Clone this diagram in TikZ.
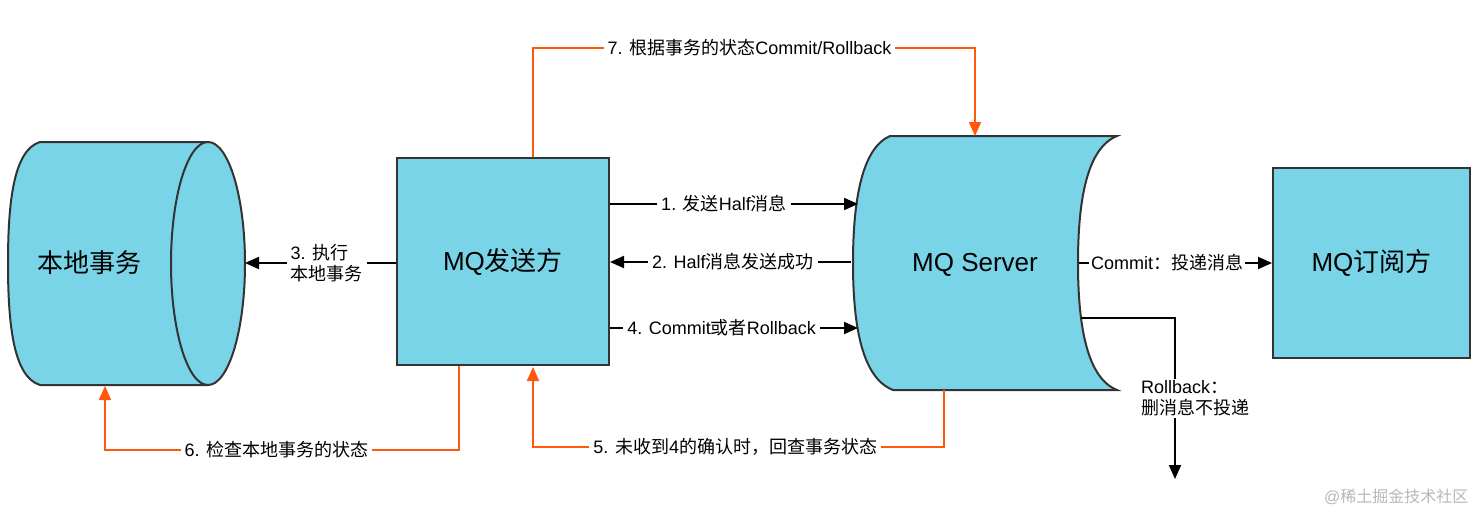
\documentclass[tikz,border=0pt]{standalone}
\usepackage{fontspec}
\setmainfont{Liberation Sans}
\newfontfamily\cjk{Noto Sans CJK SC}
\newcommand\C[1]{{\cjk #1}}
\usetikzlibrary{arrows.meta}
\definecolor{fillc}{RGB}{122,212,232}
\definecolor{edgec}{RGB}{51,51,51}
\definecolor{orng}{RGB}{255,88,10}
\tikzset{
 shapeln/.style={draw=edgec, line width=2pt, fill=fillc},
 boxnode/.style={shapeln, inner sep=0pt, font=\fontsize{26}{30}\selectfont},
 conn/.style={line width=2pt, -{Triangle[length=14pt,width=12pt]}},
 oconn/.style={conn, draw=orng, color=orng},
 lbl/.style={fill=white, text=black, font=\fontsize{18}{21}\selectfont, inner xsep=4pt, inner ysep=2pt, align=left},
 big/.style={font=\fontsize{26}{30}\selectfont},
}
\begin{document}
\begin{tikzpicture}[x=1pt,y=-1pt]
\useasboundingbox[fill=white] (0,0) rectangle (1478,514);
% local transaction cylinder
\filldraw[shapeln] (208,142) -- (40,142) .. controls (14,150) and (8,200) .. (8,263.5)
  .. controls (8,327) and (14,377) .. (40,385) -- (208,385);
\filldraw[shapeln] (208,263.5) ellipse [x radius=37pt, y radius=121.5pt];
\node[big] (local) at (89,263) {\C{本地事务}};
\coordinate (localR) at (245,263);
\coordinate (localB) at (105,386);
% MQ sender
\node[boxnode, minimum width=212pt, minimum height=207pt] (snd) at (503,261.5) {MQ\C{发送方}};
% MQ server
\filldraw[shapeln] (890,136) .. controls (862,148) and (853,200) .. (853,263)
  .. controls (853,326) and (862,378) .. (893,390) -- (1117,390)
  .. controls (1087,378) and (1078,326) .. (1078,263)
  .. controls (1078,200) and (1087,148) .. (1117,136) -- cycle;
\node[big] (srv) at (975,265) {MQ Server};
\coordinate (srvL1) at (858,204);
\coordinate (srvL2) at (851,262);
\coordinate (srvL4) at (858,328);
\coordinate (srvR) at (1079,263);
\coordinate (srvR2) at (1081,318);
\coordinate (srvTop) at (975,136);
\coordinate (srvBot) at (944,390);
% MQ subscriber
\node[boxnode, minimum width=197pt, minimum height=190pt] (sub) at (1371.5,263) {MQ\C{订阅方}};
% black connectors
\draw[conn] ([yshift=57.5pt]snd.east) -- node[lbl, pos=0.46] {1. \C{发送}Half\C{消息}} (srvL1);
\draw[conn] (srvL2) -- node[lbl, pos=0.49] {2. Half\C{消息发送成功}} ([yshift=-0.5pt]snd.east);
\draw[conn] ([yshift=-66.5pt]snd.east) -- node[lbl, pos=0.45] {4. Commit\C{或者}Rollback} (srvL4);
\draw[conn] ([yshift=-1.5pt]snd.west) -- node[lbl, pos=0.46] {3. \C{执行}\\\C{本地事务}} (localR);
\draw[conn] (srvR) -- node[lbl, pos=0.456, inner xsep=2pt] {Commit\C{：投递消息}} (sub.west);
\coordinate (rbEnd) at (1175,479);
\draw[conn] (srvR2) -| node[lbl, pos=0.75, xshift=20pt, inner xsep=2pt] {Rollback\C{：}\\\C{删消息不投递}} (rbEnd);
% orange connectors
\coordinate (t7) at (975,48);
\draw[oconn] ([xshift=30pt]snd.north) |- node[lbl, pos=0.745] {7. \C{根据事务的状态}Commit/Rollback} (t7) -- (srvTop);
\coordinate (b6) at (105,450);
\draw[oconn] ([xshift=-44pt]snd.south) |- node[lbl, pos=0.758] {6. \C{检查本地事务的状态}} (b6) -- (localB);
\coordinate (b5) at (533,447);
\draw[oconn] (srvBot) |- node[lbl, pos=0.754] {5. \C{未收到}4\C{的确认时，回查事务状态}} (b5) -- ([xshift=30pt,yshift=-1pt]snd.south);
% watermark
\node[text=black!28, font=\fontsize{16}{18}\selectfont, anchor=east] (wm) at (1472,497) {@\C{稀土掘金技术社区}};
\end{tikzpicture}
\end{document}
